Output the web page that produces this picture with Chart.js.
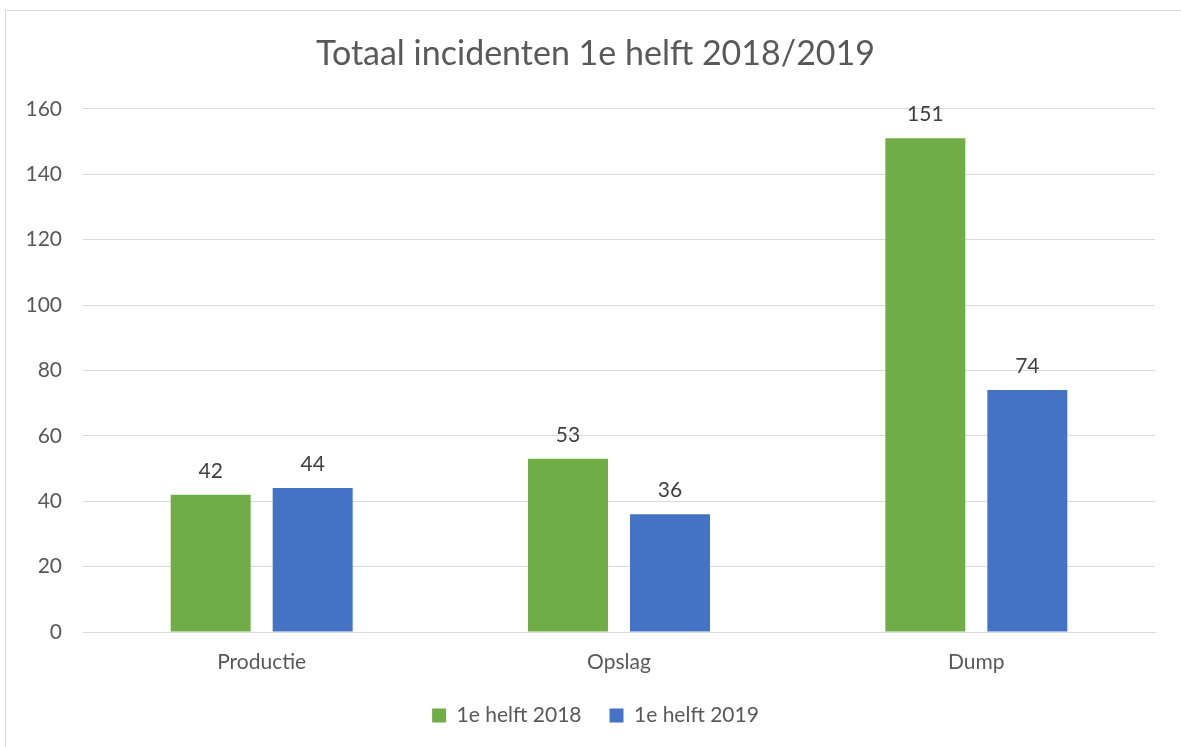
<!DOCTYPE html>
<html>
<head>
<meta charset="utf-8">
<script src="https://cdn.jsdelivr.net/npm/chart.js@4"></script>
<style>
  html, body { margin: 0; padding: 0; background: #fff; overflow: hidden; }
  .frame { position: absolute; left: 5px; top: 10px; width: 1200px; height: 760px; border: 1px solid #d9d9d9; box-sizing: border-box; }
  .wrap { position: absolute; left: 0; top: 0; width: 1181px; height: 747px; }
</style>
</head>
<body>
<div class="frame"></div>
<div class="wrap"><canvas id="incidentChart"></canvas></div>
<script>
const categories = ["Productie", "Opslag", "Dump"];
const seriesNames = ["1e helft 2018", "1e helft 2019"];
const values2018 = [42, 53, 151];
const values2019 = [44, 36, 74];
const yTicks = [0, 20, 40, 60, 80, 100, 120, 140, 160];

const fontFamily = "Lato, 'Open Sans', sans-serif";
const textColor = "#595959";
const textSize = 21;

// 막대 위에 값 표시
const valueLabels = {
  id: "valueLabels",
  afterDatasetsDraw(chart) {
    const ctx = chart.ctx;
    ctx.save();
    ctx.font = textSize + "px " + fontFamily;
    ctx.fillStyle = "#404040";
    ctx.textAlign = "center";
    ctx.textBaseline = "alphabetic";
    chart.data.datasets.forEach(function (ds, i) {
      chart.getDatasetMeta(i).data.forEach(function (bar, j) {
        ctx.fillText(ds.data[j], bar.x, bar.y - 17);
      });
    });
    ctx.restore();
  },
};

new Chart(document.getElementById("incidentChart"), {
  type: "bar",
  data: {
    labels: categories,
    datasets: [
      { label: seriesNames[0], data: values2018, backgroundColor: "#70AD47" },
      { label: seriesNames[1], data: values2019, backgroundColor: "#4472C4" },
    ],
  },
  options: {
    responsive: true,
    maintainAspectRatio: false,
    animation: false,
    categoryPercentage: 0.571,
    barPercentage: 0.784,
    // 왼쪽 여백은 제목/범례를 테두리 기준 가운데로 맞추기 위함 (y축 글자는 여백 안에 그려짐)
    layout: { padding: { top: 20, right: 26, bottom: 11, left: 36 } },
    plugins: {
      title: {
        display: true,
        text: "Totaal incidenten 1e helft 2018/2019",
        color: textColor,
        font: { family: fontFamily, size: 34, weight: "normal" },
        padding: { top: 14, bottom: 34 },
      },
      legend: {
        position: "bottom",
        labels: {
          color: textColor,
          font: { family: fontFamily, size: textSize },
          boxWidth: 14,
          boxHeight: 14,
          padding: 28,
        },
      },
      tooltip: { enabled: false },
    },
    scales: {
      x: {
        grid: { display: false },
        border: { color: "#d9d9d9" },
        ticks: { color: textColor, font: { family: fontFamily, size: textSize }, padding: 10 },
        afterFit: function (s) { s.height = 45; },
      },
      y: {
        min: 0,
        max: 160,
        afterBuildTicks: function (s) { s.ticks = yTicks.map(function (v) { return { value: v }; }); },
        grid: { color: "#d9d9d9", drawTicks: false },
        border: { display: false },
        ticks: { color: textColor, font: { family: fontFamily, size: textSize }, padding: 21 },
        afterFit: function (s) {
          s.width = 47;
          // 눈금 글자가 축 영역 밖(왼쪽 여백)으로 나가도 잘리지 않게
          s._computeLabelArea = function () { return undefined; };
        },
      },
    },
  },
  plugins: [valueLabels],
});
</script>
</body>
</html>
